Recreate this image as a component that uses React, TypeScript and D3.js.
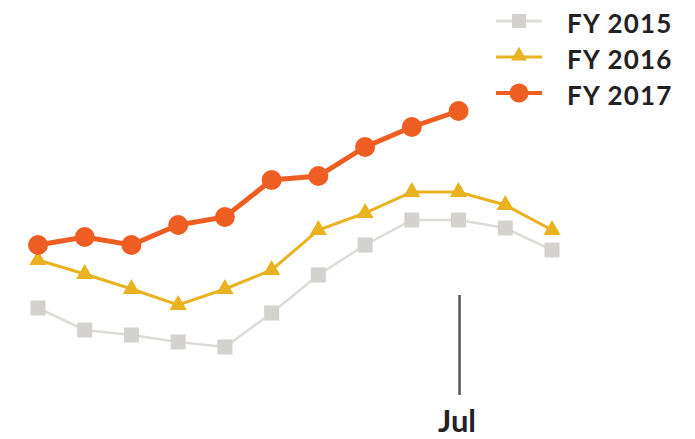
import React from "react";
import * as d3 from "d3";

const months = ["Oct", "Nov", "Dec", "Jan", "Feb", "Mar", "Apr", "May", "Jun", "Jul", "Aug", "Sep"];
const fy2015 = [92, 70, 65, 58, 53, 87, 125, 155, 180, 180, 172, 150];
const fy2016 = [140, 126, 111, 95, 111, 130, 170, 187, 208, 208, 195, 170];
const fy2017 = [155, 163, 155, 175, 183, 220, 224, 253, 273, 289];
const seriesNames = ["FY 2015", "FY 2016", "FY 2017"];
const tickLabels = ["Jul"];

const W = 695, H = 439;
const FONT = "Lato, 'Open Sans', sans-serif";

export default function App() {
  const x = d3.scalePoint<string>().domain(months).range([38, 552]);
  const y = d3.scaleLinear().domain([0, 400]).range([400, 0]);
  const line = d3
    .line<number>()
    .x((_, i) => x(months[i]) as number)
    .y((d) => y(d));

  const colors = { gray: "#d3d2cf", yellow: "#e9b220", orange: "#ee5d22" };
  const tri = d3.symbol().type(d3.symbolTriangle).size(130)() as string;
  const triLeg = d3.symbol().type(d3.symbolTriangle).size(110)() as string;

  const legendY = [21, 57, 93];

  return (
    <svg width={W} height={H} style={{ position: "absolute", left: 0, top: 0, background: "#fff" }}>
      {/* Jul tick */}
      {tickLabels.map((t) => (
        <g key={t}>
          <line x1={x(t)! + 1} x2={x(t)! + 1} y1={295} y2={395} stroke="#555" strokeWidth={2.5} />
          <text x={x(t)! - 1.5} y={432} textAnchor="middle" fontFamily={FONT} fontWeight={700} fontSize={31} fill="#222">
            {t}
          </text>
        </g>
      ))}

      {/* FY2015 */}
      <path d={line(fy2015)!} fill="none" stroke="#dcdbd8" strokeWidth={2.5} />
      {fy2015.map((v, i) => (
        <rect key={i} x={(x(months[i]) as number) - 7.5} y={y(v) - 7.5} width={15} height={15} fill={colors.gray} />
      ))}

      {/* FY2016 */}
      <path d={line(fy2016)!} fill="none" stroke={colors.yellow} strokeWidth={3} />
      {fy2016.map((v, i) => (
        <path key={i} d={tri} transform={`translate(${x(months[i])},${y(v)})`} fill={colors.yellow} />
      ))}

      {/* FY2017 */}
      <path d={line(fy2017)!} fill="none" stroke={colors.orange} strokeWidth={5} />
      {fy2017.map((v, i) => (
        <circle key={i} cx={x(months[i]) as number} cy={y(v)} r={10} fill={colors.orange} />
      ))}

      {/* Legend */}
      {seriesNames.map((name, i) => {
        const ly = legendY[i];
        const c = i === 0 ? "#dcdbd8" : i === 1 ? colors.yellow : colors.orange;
        return (
          <g key={name}>
            <line x1={496} x2={542} y1={ly} y2={ly} stroke={c} strokeWidth={i === 2 ? 4 : 3} />
            {i === 0 && <rect x={512} y={ly - 7} width={14} height={14} fill={colors.gray} />}
            {i === 1 && <path d={triLeg} transform={`translate(519,${ly - 1})`} fill={colors.yellow} />}
            {i === 2 && <circle cx={519} cy={ly} r={9.5} fill={colors.orange} />}
            <text x={567} y={ly + 12} fontFamily={FONT} fontWeight={700} fontSize={26} letterSpacing={1.2} fill="#222">
              {name}
            </text>
          </g>
        );
      })}
    </svg>
  );
}
